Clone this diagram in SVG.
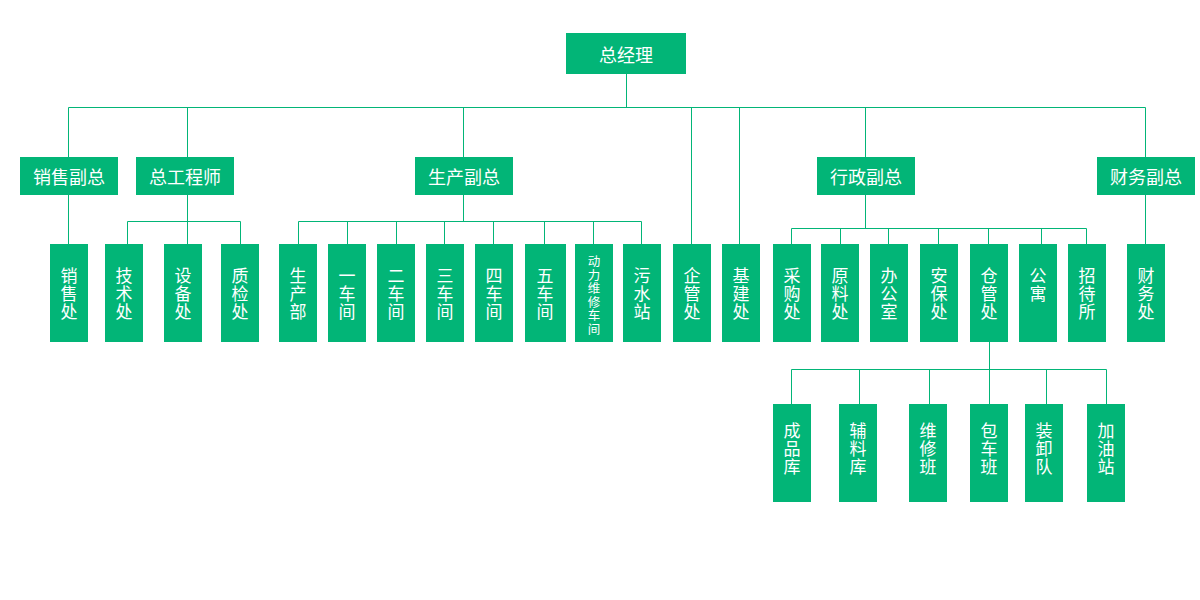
<svg xmlns="http://www.w3.org/2000/svg" width="1200" height="600" viewBox="0 0 1200 600">
<style>
.b{fill:#02b577}
.t{fill:#fff;font-family:"Noto Sans CJK SC","Microsoft YaHei",sans-serif;font-size:18px;text-anchor:middle;dominant-baseline:central}
.v{font-size:17px}
.s{font-size:12.5px}
.c{fill:none;stroke:#02b577;stroke-width:1}
</style>
<rect width="1200" height="600" fill="#fff"/>
<g id="connectors" class="c">
<path d="M626.5 74V107.5M68.5 107.5H1145.5M68.5 107.5V157M187.5 107.5V157M463.5 107.5V157M691.5 107.5V244M739.5 107.5V244M865.5 107.5V157M1145.5 107.5V157"/>
<path d="M68.5 195V244M1145.5 195V244"/>
<path d="M187.5 195V221.5M127.5 221.5H240.5M127.5 221.5V244M187.5 221.5V244M240.5 221.5V244"/>
<path d="M463.5 195V221.5M298.5 221.5H641.5M298.5 221.5V244M347.5 221.5V244M396.5 221.5V244M444.5 221.5V244M493.5 221.5V244M544.5 221.5V244M593.5 221.5V244M641.5 221.5V244"/>
<path d="M865.5 195V228.5M791.5 228.5H1086.5M791.5 228.5V244M840.5 228.5V244M888.5 228.5V244M938.5 228.5V244M988.5 228.5V244M1041.5 228.5V244M1086.5 228.5V244"/>
<path d="M989.5 342V369.5M791.5 369.5H1106.5M791.5 369.5V404M859.5 369.5V404M929.5 369.5V404M989.5 369.5V404M1046.5 369.5V404M1106.5 369.5V404"/>
</g>
<g id="n-zjl"><rect class="b" x="566" y="33" width="120" height="41"/><text class="t" x="626" y="53.5">总经理</text></g>
<g id="n-xsfz"><rect class="b" x="20" y="157" width="98" height="38"/><text class="t" x="69" y="176">销售副总</text></g>
<g id="n-zgcs"><rect class="b" x="136" y="157" width="98" height="38"/><text class="t" x="185" y="176">总工程师</text></g>
<g id="n-scfz"><rect class="b" x="415" y="157" width="98" height="38"/><text class="t" x="464" y="176">生产副总</text></g>
<g id="n-xzfz"><rect class="b" x="817" y="157" width="98" height="38"/><text class="t" x="866" y="176">行政副总</text></g>
<g id="n-cwfz"><rect class="b" x="1097" y="157" width="98" height="38"/><text class="t" x="1146" y="176">财务副总</text></g>

<g id="n-xsc"><rect class="b" x="50" y="244" width="38" height="98"/><text class="t v"><tspan x="69" y="274">销</tspan><tspan x="69" y="292">售</tspan><tspan x="69" y="310">处</tspan></text></g>
<g id="n-jsc"><rect class="b" x="105" y="244" width="38" height="98"/><text class="t v"><tspan x="124" y="274">技</tspan><tspan x="124" y="292">术</tspan><tspan x="124" y="310">处</tspan></text></g>
<g id="n-sbc"><rect class="b" x="164" y="244" width="38" height="98"/><text class="t v"><tspan x="183" y="274">设</tspan><tspan x="183" y="292">备</tspan><tspan x="183" y="310">处</tspan></text></g>
<g id="n-zjc"><rect class="b" x="221" y="244" width="38" height="98"/><text class="t v"><tspan x="240" y="274">质</tspan><tspan x="240" y="292">检</tspan><tspan x="240" y="310">处</tspan></text></g>
<g id="n-scb"><rect class="b" x="279" y="244" width="38" height="98"/><text class="t v"><tspan x="298" y="274">生</tspan><tspan x="298" y="292">产</tspan><tspan x="298" y="310">部</tspan></text></g>
<g id="n-cj1"><rect class="b" x="328" y="244" width="38" height="98"/><text class="t v"><tspan x="347" y="274">一</tspan><tspan x="347" y="292">车</tspan><tspan x="347" y="310">间</tspan></text></g>
<g id="n-cj2"><rect class="b" x="377" y="244" width="38" height="98"/><text class="t v"><tspan x="396" y="274">二</tspan><tspan x="396" y="292">车</tspan><tspan x="396" y="310">间</tspan></text></g>
<g id="n-cj3"><rect class="b" x="426" y="244" width="38" height="98"/><text class="t v"><tspan x="445" y="274">三</tspan><tspan x="445" y="292">车</tspan><tspan x="445" y="310">间</tspan></text></g>
<g id="n-cj4"><rect class="b" x="475" y="244" width="38" height="98"/><text class="t v"><tspan x="494" y="274">四</tspan><tspan x="494" y="292">车</tspan><tspan x="494" y="310">间</tspan></text></g>
<g id="n-cj5"><rect class="b" x="525" y="244" width="41" height="98"/><text class="t v"><tspan x="545" y="274">五</tspan><tspan x="545" y="292">车</tspan><tspan x="545" y="310">间</tspan></text></g>
<g id="n-dlwx"><rect class="b" x="575" y="244" width="38" height="98"/><text class="t s"><tspan x="594" y="260">动</tspan><tspan x="594" y="273.6">力</tspan><tspan x="594" y="287.2">维</tspan><tspan x="594" y="300.8">修</tspan><tspan x="594" y="314.4">车</tspan><tspan x="594" y="328">间</tspan></text></g>
<g id="n-wsz"><rect class="b" x="623" y="244" width="38" height="98"/><text class="t v"><tspan x="642" y="274">污</tspan><tspan x="642" y="292">水</tspan><tspan x="642" y="310">站</tspan></text></g>
<g id="n-qgc"><rect class="b" x="673" y="244" width="38" height="98"/><text class="t v"><tspan x="692" y="274">企</tspan><tspan x="692" y="292">管</tspan><tspan x="692" y="310">处</tspan></text></g>
<g id="n-jjc"><rect class="b" x="722" y="244" width="38" height="98"/><text class="t v"><tspan x="741" y="274">基</tspan><tspan x="741" y="292">建</tspan><tspan x="741" y="310">处</tspan></text></g>
<g id="n-cgc"><rect class="b" x="773" y="244" width="38" height="98"/><text class="t v"><tspan x="792" y="274">采</tspan><tspan x="792" y="292">购</tspan><tspan x="792" y="310">处</tspan></text></g>
<g id="n-ylc"><rect class="b" x="821" y="244" width="38" height="98"/><text class="t v"><tspan x="840" y="274">原</tspan><tspan x="840" y="292">料</tspan><tspan x="840" y="310">处</tspan></text></g>
<g id="n-bgs"><rect class="b" x="870" y="244" width="38" height="98"/><text class="t v"><tspan x="889" y="274">办</tspan><tspan x="889" y="292">公</tspan><tspan x="889" y="310">室</tspan></text></g>
<g id="n-abc"><rect class="b" x="920" y="244" width="38" height="98"/><text class="t v"><tspan x="939" y="274">安</tspan><tspan x="939" y="292">保</tspan><tspan x="939" y="310">处</tspan></text></g>
<g id="n-cgc2"><rect class="b" x="970" y="244" width="38" height="98"/><text class="t v"><tspan x="989" y="274">仓</tspan><tspan x="989" y="292">管</tspan><tspan x="989" y="310">处</tspan></text></g>
<g id="n-gy"><rect class="b" x="1019" y="244" width="38" height="98"/><text class="t v"><tspan x="1038" y="274">公</tspan><tspan x="1038" y="292">寓</tspan></text></g>
<g id="n-zds"><rect class="b" x="1068" y="244" width="38" height="98"/><text class="t v"><tspan x="1087" y="274">招</tspan><tspan x="1087" y="292">待</tspan><tspan x="1087" y="310">所</tspan></text></g>
<g id="n-cwc"><rect class="b" x="1127" y="244" width="38" height="98"/><text class="t v"><tspan x="1146" y="274">财</tspan><tspan x="1146" y="292">务</tspan><tspan x="1146" y="310">处</tspan></text></g>

<g id="n-cpk"><rect class="b" x="773" y="404" width="38" height="98"/><text class="t v"><tspan x="792" y="429">成</tspan><tspan x="792" y="447">品</tspan><tspan x="792" y="465">库</tspan></text></g>
<g id="n-flk"><rect class="b" x="839" y="404" width="38" height="98"/><text class="t v"><tspan x="858" y="429">辅</tspan><tspan x="858" y="447">料</tspan><tspan x="858" y="465">库</tspan></text></g>
<g id="n-wxb"><rect class="b" x="909" y="404" width="38" height="98"/><text class="t v"><tspan x="928" y="429">维</tspan><tspan x="928" y="447">修</tspan><tspan x="928" y="465">班</tspan></text></g>
<g id="n-bcb"><rect class="b" x="970" y="404" width="38" height="98"/><text class="t v"><tspan x="989" y="429">包</tspan><tspan x="989" y="447">车</tspan><tspan x="989" y="465">班</tspan></text></g>
<g id="n-zxd"><rect class="b" x="1025" y="404" width="38" height="98"/><text class="t v"><tspan x="1044" y="429">装</tspan><tspan x="1044" y="447">卸</tspan><tspan x="1044" y="465">队</tspan></text></g>
<g id="n-jyz"><rect class="b" x="1087" y="404" width="38" height="98"/><text class="t v"><tspan x="1106" y="429">加</tspan><tspan x="1106" y="447">油</tspan><tspan x="1106" y="465">站</tspan></text></g>
</svg>
